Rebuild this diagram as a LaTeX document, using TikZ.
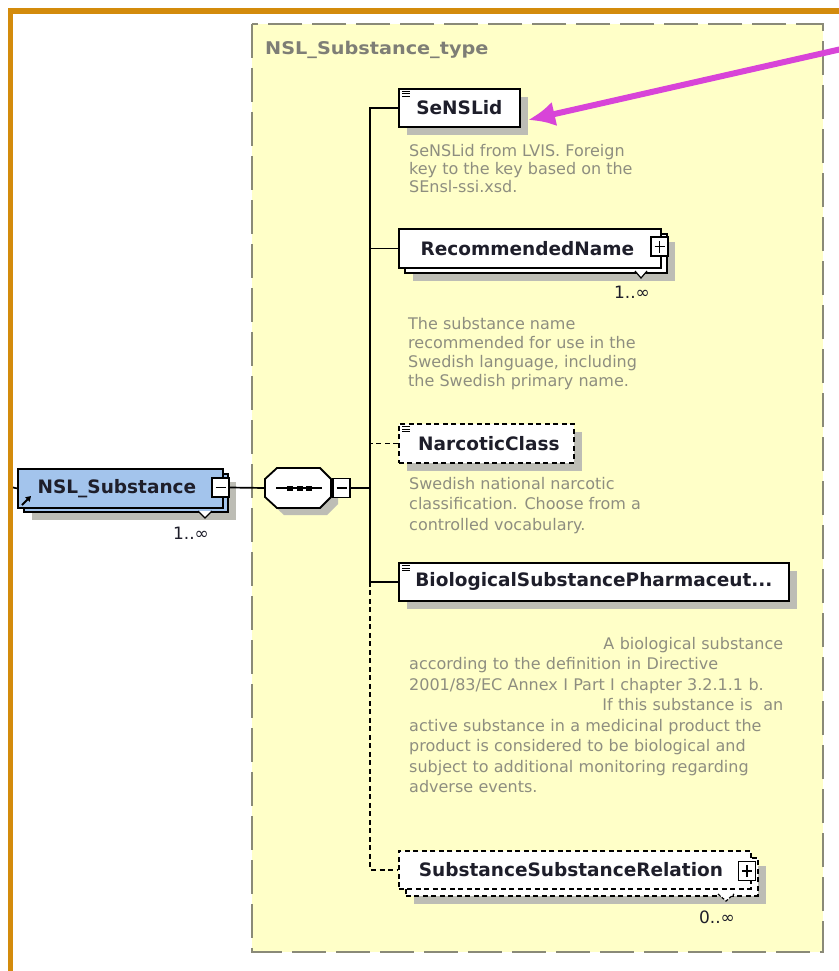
\documentclass[tikz,border=0pt]{standalone}
\usepackage{fontspec}
\setmainfont{DejaVu Sans}
\newfontfamily\descfam{DejaVu Sans}
\usetikzlibrary{arrows.meta}
\definecolor{frameor}{HTML}{D38B0C}
\definecolor{panelfill}{HTML}{FFFFC8}
\definecolor{panelline}{HTML}{8A8A78}
\definecolor{titlegray}{HTML}{7E7E76}
\definecolor{descgray}{HTML}{8E8E80}
\definecolor{shadowgray}{HTML}{BDBDB5}
\definecolor{elblue}{HTML}{A3C4EC}
\definecolor{labelc}{HTML}{1E1E2A}
\definecolor{pointer}{HTML}{D844D8}
\begin{document}
\begin{tikzpicture}[x=1pt,y=-1pt,
  shad/.style={preaction={fill=shadowgray, draw=none, transform canvas={shift={(#1,#1)}}}},
  shad/.default=8,
  elem/.style={draw=black, line width=1.8pt, fill=white, inner sep=0pt, anchor=north west,
    minimum height=38pt, font=\fontsize{18.5}{20}\selectfont\bfseries, text=labelc},
  optelem/.style={elem, dash pattern=on 5pt off 3.5pt},
  pmbox/.style={draw=black, line width=1.3pt, fill=white, inner sep=0pt, minimum width=17pt, minimum height=19pt},
  desc/.style={anchor=north west, inner sep=0pt, align=left, text=descgray, font=\descfam\fontsize{16}{#1}\selectfont},
  desc/.default=18.5,
  mult/.style={inner sep=0pt, text=labelc, font=\fontsize{17}{19}\selectfont},
  conn/.style={line width=1.7pt, draw=black},
  optconn/.style={conn, dash pattern=on 5pt off 3.5pt},
  notch/.style={draw=black, line width=1.2pt, fill=white},
  icon/.style={line width=1pt, draw=black},
]
\useasboundingbox (0,0) rectangle (838,971);
\fill[white] (0,0) rectangle (838,971);
% frame
\fill[frameor] (8,8) rectangle (845,14);
\fill[frameor] (8,8) rectangle (13,980);
% panel
\draw[panelline, line width=1.3pt, fill=panelfill, dash pattern=on 34pt off 10pt] (252,24) rectangle (823,952);
\node[anchor=west, text=titlegray, font=\fontsize{17.5}{20}\selectfont\bfseries, inner sep=0pt] (title) at (265,50) {\scalebox{1.1}[1]{NSL\_Substance\_type}};

% root element
\node[elem, fill=elblue, shad, minimum width=204pt] (rootback) at (23,473) {};
\node[elem, fill=elblue, minimum width=205pt, minimum height=39pt] (root) at (17,468) {NSL\_Substance\hspace*{7pt}};
\node[pmbox] (rootmin) at (220.5,487.5) {};
\draw[line width=1.4pt] ([xshift=-5pt]rootmin.center) -- ([xshift=5pt]rootmin.center);
\draw[notch] (198,511) -- (205,518) -- (212,511);
\node[mult] (rootmult) at (191,533) {1..∞};
\draw[line width=1.8pt, -{Triangle[length=5pt,width=6pt]}] (22,505) -- (31,496);
\coordinate (stub) at (13,487.5);
\draw[conn] (stub) -- (root.west);

% sequence compositor
\node[minimum width=66pt, minimum height=40pt, inner sep=0pt] (seq) at (298,488) {};
\filldraw[fill=white, draw=black, line width=1.8pt, shad=7] (277,468) -- (320,468) -- (331,479) -- (331,497) -- (320,508) -- (277,508) -- (265,497) -- (265,479) -- cycle;
\draw[line width=1.6pt] (276,488) -- (322,488);
\fill (287,485.5) rectangle (293,490.5);
\fill (296.5,485.5) rectangle (302.5,490.5);
\fill (306,485.5) rectangle (312,490.5);
\node[pmbox] (seqmin) at (341.5,488) {};
\draw[line width=1.4pt] ([xshift=-5pt]seqmin.center) -- ([xshift=5pt]seqmin.center);
\coordinate (jseq) at (370,488);
\draw[conn] (rootmin.east) -- (seq.west);
\draw[conn] (seqmin.east) -- (jseq);

% SeNSLid
\node[elem, shad, minimum width=121pt] (sens) at (398,88) {SeNSLid};
\foreach \d in {3.5,6,8.5} \draw[icon] ([shift={(4,\d)}]sens.north west) -- ++(8,0);
\node[desc=18] (sensdesc) at (409,144) {SeNSLid from LVIS. Foreign\\key to the key based on the\\SEnsl-ssi.xsd.};

% RecommendedName
\node[elem, shad, minimum width=262pt, minimum height=39pt] (recback) at (404,233) {};
\node[elem, minimum width=262pt, minimum height=39pt] (rec) at (398,228) {RecommendedName\hspace*{5pt}};
\node[pmbox] (recplus) at (659.5,246.5) {};
\draw[line width=1.4pt] ([xshift=-5pt]recplus.center) -- ([xshift=5pt]recplus.center);
\draw[line width=1.4pt] ([yshift=-6pt]recplus.center) -- ([yshift=6pt]recplus.center);
\draw[notch] (635,271) -- (641,278) -- (647,271);
\node[mult] (recmult) at (632,292) {1..∞};
\node[desc=19.2] (recdesc) at (408,317) {The substance name\\recommended for use in the\\Swedish language, including\\the Swedish primary name.};

% NarcoticClass
\node[optelem, shad, minimum width=175pt, minimum height=39pt] (narc) at (398,423) {\hspace*{5pt}NarcoticClass};
\foreach \d in {3.5,6,8.5} \draw[icon] ([shift={(4,\d)}]narc.north west) -- ++(8,0);
\node[desc=20.5] (narcdesc) at (409,477) {Swedish national narcotic\\classification. Choose from a\\controlled vocabulary.};

% Biological
\node[elem, shad, minimum width=390pt] (bio) at (398,562) {BiologicalSubstancePharmaceut...};
\foreach \d in {3.5,6,8.5} \draw[icon] ([shift={(4,\d)}]bio.north west) -- ++(8,0);
\node[desc=20.5, text width=374pt] (biodesc) at (409,637) {\leavevmode\hfill A biological substance\\according to the definition in Directive\\2001/83/EC Annex I Part I chapter 3.2.1.1 b.\\\leavevmode\hfill If this substance is\ \ an\\active substance in a medicinal product the\\product is considered to be biological and\\subject to additional monitoring regarding\\adverse events.};

% SubstanceSubstanceRelation
\node[optelem, shad, minimum width=352pt, minimum height=38pt] (ssrback) at (405,857) {};
\node[optelem, minimum width=352pt, minimum height=38pt] (ssr) at (398,850) {SubstanceSubstanceRelation\hspace*{8pt}};
\node[pmbox] (ssrplus) at (747,871) {};
\draw[line width=1.4pt] ([xshift=-5pt]ssrplus.center) -- ([xshift=5pt]ssrplus.center);
\draw[line width=1.4pt] ([yshift=-6pt]ssrplus.center) -- ([yshift=6pt]ssrplus.center);
\draw[notch, dash pattern=on 3pt off 2pt] (718,894) -- (726,901) -- (734,894);
\node[mult] (ssrmult) at (717,917) {0..∞};

% trunk connectors
\draw[conn] (sens.west) -- (sens.west -| jseq) -- (bio.west -| jseq) -- (bio.west);
\draw[conn] (rec.west) -- (rec.west -| jseq);
\draw[optconn] (narc.west) -- (narc.west -| jseq);
\draw[optconn] (bio.west -| jseq) -- (ssr.west -| jseq) -- (ssr.west);

% pointer arrow
\coordinate (ptrstart) at (846,48);
\coordinate (ptrtip) at (528,120);
\draw[pointer, line width=6pt, -{Latex[length=27pt,width=25pt]}] (ptrstart) -- (ptrtip);
\end{tikzpicture}
\end{document}
